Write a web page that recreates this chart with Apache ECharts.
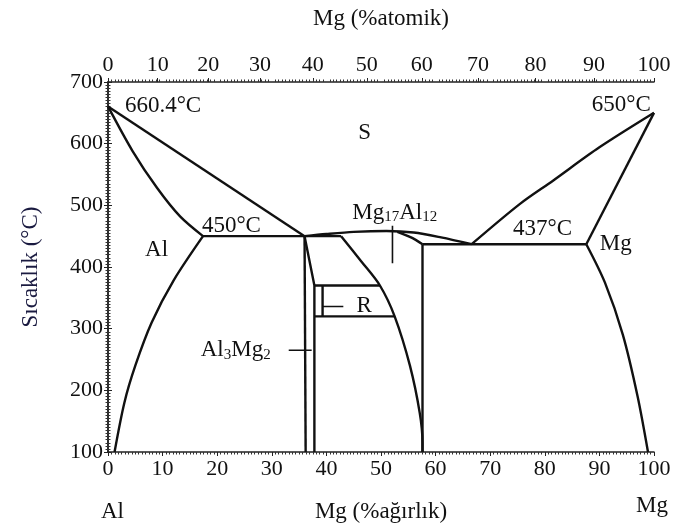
<!DOCTYPE html>
<html><head><meta charset="utf-8">
<script src="https://cdn.jsdelivr.net/npm/echarts@6/dist/echarts.min.js"></script>
<style>html,body{margin:0;padding:0;background:#fff}#c{width:678px;height:528px}</style>
</head><body><div id="c"></div>
<script>
// ---- data (x = wt% Mg, y = temperature °C) ----
const atomicTicks = [0,10,20,30,40,50,60,70,80,90,100];
const alLiquidus = [[0,660.4],[36,450]];
const alSolidus = [[0,660.4],[4.5,588],[9,528],[13.2,482],[17.4,450]];
const alSolvus = [[17.4,450],[12,378],[8,310],[5,240],[3,180],[1.2,100]];
const eutectic450 = [[17.4,450],[42.7,450]];
const betaLeft = [[36,450],[36.2,100]];
const betaRight = [[36,450],[37.8,370],[37.8,100]];
const rLeft = [[39.3,370],[39.3,320]];
const rTop = [[37.8,370],[49.8,370]];
const rBottom = [[37.8,320],[52.5,320]];
const gammaLeft = [[42.7,450],[46.4,409],[49.8,370],[52.5,320],[55.3,240],[57.1,163],[57.6,115],[57.6,100]];
const gammaRight = [[57.6,437],[57.6,100]];
const domeLiquidus = [[36,450],[40,453.5],[45,457],[51,458.5],[56,456],[61,448],[66.6,437]];
const gammaSolidusRight = [[53,457],[55.5,448],[57.6,437]];
const eutectic437 = [[57.6,437],[87.6,437]];
const mgLiquidus = [[66.6,437],[75.4,502],[81.5,540],[90,594],[100,650]];
const mgSolidus = [[87.6,437],[100,650]];
const mgSolvus = [[87.6,437],[91,375],[94.3,290],[97,190],[98.9,100]];
const leaderMgAl = [[52.1,467],[52.1,406]];
const leaderAlMg = [[33.1,265],[37.3,265]];
const leaderR = [[39.3,336],[43.1,336]];
const labelTexts = ['660.4°C','650°C','S','450°C','Al','437°C','Mg','R','{m|Mg}{s|17}{m|Al}{s|12}','{m|Al}{s|3}{m|Mg}{s|2}'];
const labelPos = [[3.1,661],[99.4,663],[47,618],[22.6,466],[8.9,427],[79.6,461],[93,438],[45.5,337],[52.5,488],[29.8,265]];
const labelAlign = ['left','right','center','center','center','center','center','left','center','right'];

// atomic % Mg -> weight % Mg (top axis positions)
const MA = 24.305, AA = 26.982;
const atToWt = a => 100 * a * MA / (a * MA + (100 - a) * AA);
const wtToAt = w => 100 * (w / MA) / (w / MA + (100 - w) / AA);
const topPos = atomicTicks.map(atToWt);

const FONT = 'Liberation Serif';
const TXT = '#111';
const chart = echarts.init(document.getElementById('c'));

const curves = [
  [alLiquidus,false],[alSolidus,true],[alSolvus,true],[eutectic450,false],
  [betaLeft,false],[betaRight,false],[rLeft,false],[rTop,false],[rBottom,false],
  [gammaLeft,true],[gammaRight,false],[domeLiquidus,true],[gammaSolidusRight,true],
  [eutectic437,false],[mgLiquidus,true],[mgSolidus,false],[mgSolvus,true]
];
const series = curves.map(([d,s]) => ({
  type:'line', data:d, smooth: s ? 0.3 : false, symbol:'none', silent:true,
  lineStyle:{color:'#111', width:2.4}, xAxisIndex:0, yAxisIndex:0, z:3
}));
[leaderMgAl, leaderAlMg, leaderR].forEach(d => series.push({
  type:'line', data:d, symbol:'none', silent:true,
  lineStyle:{color:'#111', width:1.6}
}));
series.push({
  type:'scatter', symbolSize:0, silent:true, itemStyle:{opacity:1},
  data: labelPos.map((p,i)=>({value:p, label:{align:labelAlign[i], formatter:labelTexts[i]}})),
  label:{show:true, position:'inside', opacity:1, verticalAlign:'middle', fontFamily:FONT, fontSize:23, color:TXT,
    rich:{m:{fontFamily:FONT,fontSize:23,color:TXT,lineHeight:24},
          s:{fontFamily:FONT,fontSize:15,color:TXT,verticalAlign:'bottom',lineHeight:18}}}
});

const axisLineStyle = {color:'#222', width:1.5};
chart.setOption({
  animation:false,
  grid:{left:108, right:24, top:82, bottom:76},
  xAxis:[
    {type:'value', position:'bottom', min:0, max:100, interval:10,
     axisLine:{show:true, lineStyle:axisLineStyle},
     axisTick:{show:true, length:4, lineStyle:{color:'#222'}},
     minorTick:{show:true, splitNumber:16, length:2.5, lineStyle:{color:'#333'}},
     splitLine:{show:false},
     axisLabel:{fontFamily:FONT, fontSize:22, color:TXT, margin:6},
     name:'Mg (%ağırlık)', nameLocation:'middle', nameGap:48,
     nameTextStyle:{fontFamily:FONT, fontSize:23, color:TXT}},
    {type:'value', position:'top', min:0, max:100,
     axisLine:{show:true, lineStyle:axisLineStyle},
     axisTick:{show:true, length:4, customValues:topPos, lineStyle:{color:'#222'}},
     axisLabel:{fontFamily:FONT, fontSize:22, color:TXT, margin:6, customValues:topPos,
       formatter: v => String(Math.round(wtToAt(v)))},
     splitLine:{show:false},
     name:'Mg (%atomik)', nameLocation:'middle', nameGap:52,
     nameTextStyle:{fontFamily:FONT, fontSize:23, color:TXT}},
    {type:'value', position:'top', min:0, max:100, interval:10,
     axisLine:{show:false}, axisTick:{show:false}, axisLabel:{show:false},
     minorTick:{show:true, splitNumber:16, length:2.5, lineStyle:{color:'#333'}},
     splitLine:{show:false}}
  ],
  yAxis:[
    {type:'value', position:'left', min:100, max:700, interval:100,
     axisLine:{show:true, lineStyle:axisLineStyle},
     axisTick:{show:true, length:4, lineStyle:{color:'#222'}},
     minorTick:{show:true, splitNumber:20, length:2.5, lineStyle:{color:'#333'}},
     splitLine:{show:false},
     axisLabel:{fontFamily:FONT, fontSize:22, color:TXT, margin:5},
     name:'Sıcaklık (°C)', nameLocation:'middle', nameGap:66, nameRotate:90,
     nameTextStyle:{fontFamily:FONT, fontSize:23, color:'#1a1a40'}},
    {type:'value', position:'right', min:100, max:700, interval:100,
     axisLine:{show:true, lineStyle:axisLineStyle},
     axisTick:{show:true, length:4, lineStyle:{color:'#222'}},
     minorTick:{show:true, splitNumber:20, length:2.5, lineStyle:{color:'#333'}},
     splitLine:{show:false}, axisLabel:{show:false}}
  ],
  graphic:[
    {type:'text', left:101, top:500, style:{text:'Al', font:'23px "Liberation Serif"', fill:TXT}},
    {type:'text', left:636, top:494, style:{text:'Mg', font:'23px "Liberation Serif"', fill:TXT}}
  ],
  series
});
</script></body></html>
